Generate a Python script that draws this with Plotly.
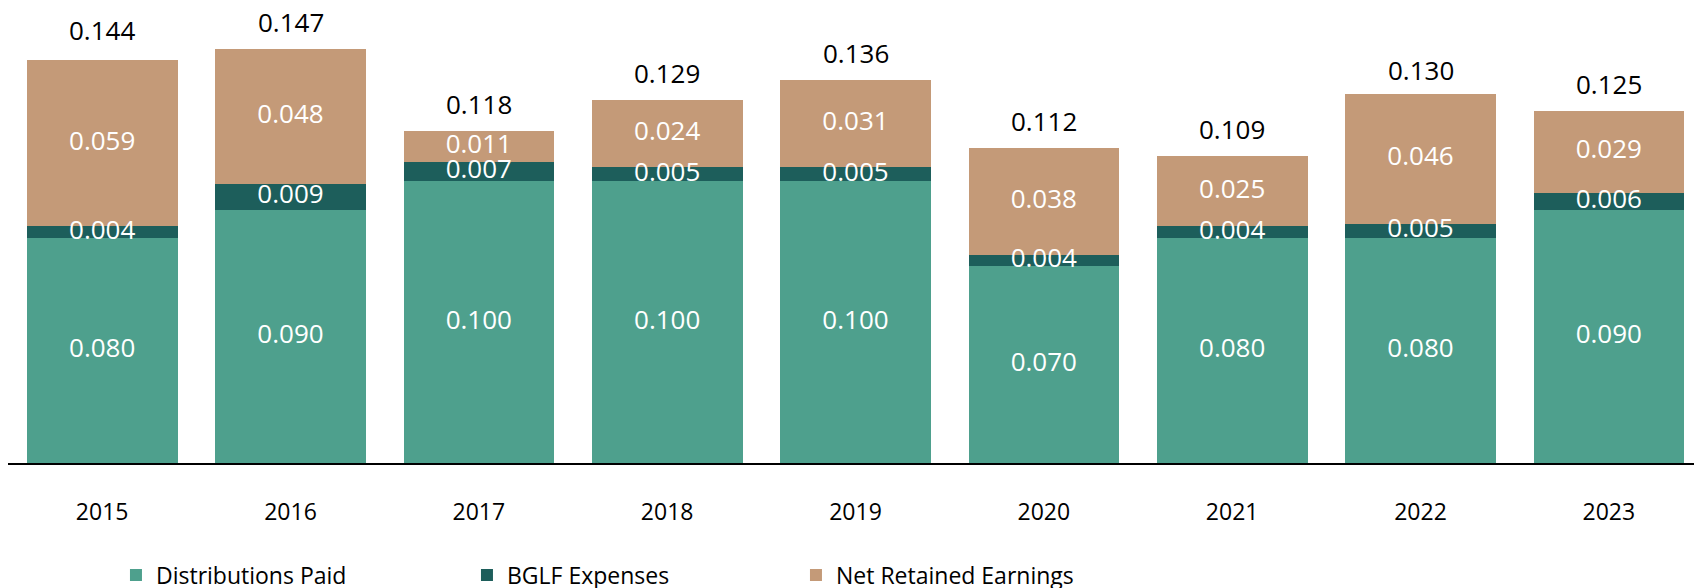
import plotly.graph_objects as go

years = ["2015", "2016", "2017", "2018", "2019", "2020", "2021", "2022", "2023"]
distributions = [0.080, 0.090, 0.100, 0.100, 0.100, 0.070, 0.080, 0.080, 0.090]
bglf_expenses = [0.004, 0.009, 0.007, 0.005, 0.005, 0.004, 0.004, 0.005, 0.006]
net_retained = [0.059, 0.048, 0.011, 0.024, 0.031, 0.038, 0.025, 0.046, 0.029]
totals = [0.144, 0.147, 0.118, 0.129, 0.136, 0.112, 0.109, 0.130, 0.125]

series = [
    ("Distributions Paid", distributions, "#4EA08D", 306),
    ("BGLF Expenses", bglf_expenses, "#1D5E5B", 284),
    ("Net Retained Earnings", net_retained, "#C49A78", 300),
]

FONT = "Open Sans"
fig = go.Figure()

base = [0.0] * len(years)
label_traces = []
for name, vals, color, lw in series:
    fig.add_trace(go.Bar(
        x=years, y=vals, name=name,
        marker=dict(color=color, line=dict(width=0)),
        legendwidth=lw,
        hoverinfo="skip",
    ))
    mids = [b + v / 2 for b, v in zip(base, vals)]
    label_traces.append(go.Scatter(
        x=years, y=mids, mode="text",
        text=[f"{v:.3f}" for v in vals],
        textposition="middle center",
        textfont=dict(family=FONT, size=26, color="white"),
        showlegend=False, hoverinfo="skip", cliponaxis=False,
    ))
    base = [b + v for b, v in zip(base, vals)]

for t in label_traces:
    fig.add_trace(t)

for i, tot in enumerate(totals):
    fig.add_annotation(
        x=i, y=tot, text=f"{tot:.3f}", showarrow=False,
        yanchor="bottom", yshift=7,
        font=dict(family=FONT, size=26, color="black"),
    )

fig.update_layout(
    barmode="stack",
    bargap=0.2,
    width=1702, height=588,
    margin=dict(l=0, r=7, t=0, b=133),
    paper_bgcolor="white", plot_bgcolor="white",
    font=dict(family=FONT, color="black"),
    showlegend=True,
    legend=dict(
        orientation="h",
        xref="paper", x=0.0637, xanchor="left",
        yref="container", y=0.0357, yanchor="middle",
        font=dict(family=FONT, size=23, color="black"),
        bgcolor="rgba(0,0,0,0)",
        traceorder="normal",
    ),
    xaxis=dict(
        type="category",
        range=[-0.5, len(years) - 0.5],
        categoryorder="array", categoryarray=years,
        showline=True, linecolor="black", linewidth=2,
        showgrid=False, zeroline=False,
        ticks="", ticklabelstandoff=27,
        tickfont=dict(family=FONT, size=23, color="black"),
    ),
    yaxis=dict(visible=False, range=[0, 0.16158], showgrid=False, zeroline=False),
)

fig.write_html("out.html")
